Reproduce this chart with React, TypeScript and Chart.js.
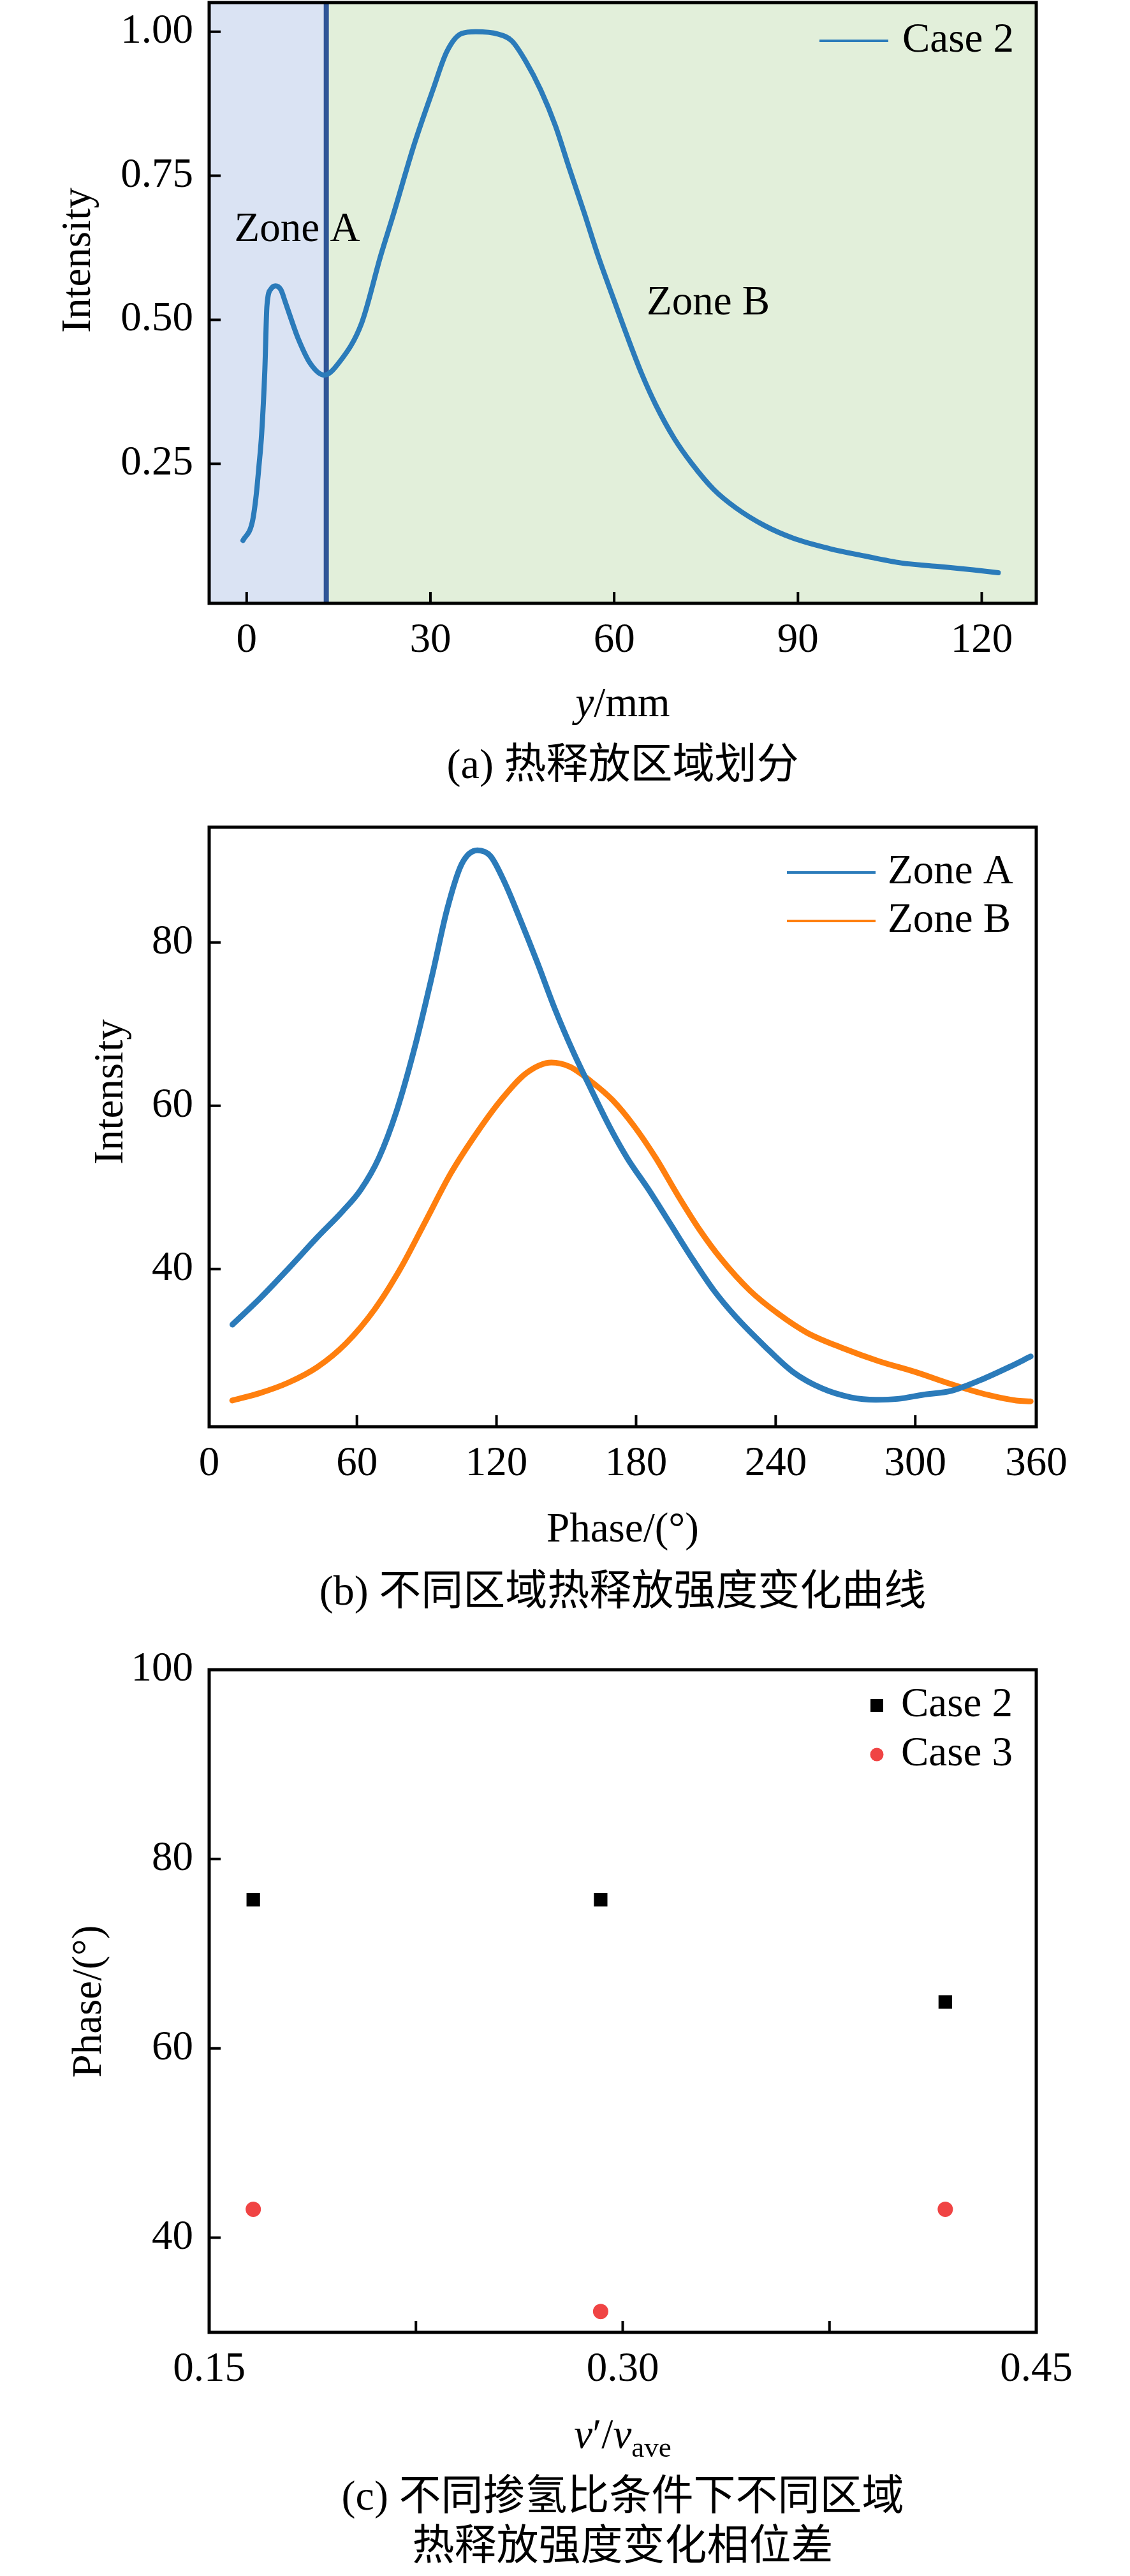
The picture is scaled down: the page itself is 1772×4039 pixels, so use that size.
import { useEffect, useRef } from "react";
import { Chart, registerables } from "chart.js";

Chart.register(...registerables);

// (a) 热释放区域划分: intensity profile along y
const profilePos = [
  -0.6, 0.9, 1.5, 2.0, 2.45, 2.97, 3.31, 4.0, 4.7, 5.6, 6.27, 7.3, 8.35, 10.4, 12.65, 15.25,
  18.76, 21.9, 23.9, 27.4, 30.4, 32.7, 35.1, 37.4, 41.0, 43.3, 45.6, 48.0, 50.4, 52.7, 55.1,
  57.4, 59.8, 62.1, 64.5, 66.8, 69.8, 72.7, 76.2, 79.8, 84.5, 89.2, 95.1, 100.9, 106.8, 112.7,
  118.6, 122.7,
];
const profileIntensity = [
  0.117, 0.148, 0.19, 0.245, 0.302, 0.413, 0.524, 0.554, 0.559, 0.552, 0.532, 0.5, 0.469, 0.424,
  0.404, 0.428, 0.494, 0.612, 0.681, 0.806, 0.899, 0.966, 0.997, 1.0, 0.996, 0.984, 0.948, 0.899,
  0.837, 0.762, 0.686, 0.61, 0.539, 0.472, 0.406, 0.352, 0.294, 0.25, 0.206, 0.174, 0.143, 0.121,
  0.103, 0.09, 0.078, 0.072, 0.066, 0.061,
];
const zoneBoundary = 13;
const profileXTicks = [0, 30, 60, 90, 120];
const profileYTicks = [0.25, 0.5, 0.75, 1.0];

// (b) 不同区域热释放强度变化曲线
const zoneAPhase = [
  6.5, 18.3, 30.7, 43.0, 53.9, 61.6, 69.4, 77.1, 84.9, 92.6, 98.8, 105.0, 111.8, 117.4, 123.6,
  129.8, 137.5, 145.2, 153.0, 160.7, 168.5, 176.2, 185.5, 194.8, 204.1, 213.4, 222.7, 235.1,
  247.4, 259.8, 272.2, 283.1, 292.4, 303.2, 315.6, 328.0, 340.4, 349.6,
];
const zoneAIntensity = [
  33.2, 36.4, 40.1, 43.9, 47.1, 49.7, 53.6, 59.4, 67.2, 76.3, 84.1, 89.6, 91.3, 90.6, 87.3, 83.1,
  77.6, 71.8, 66.6, 62.0, 57.5, 53.6, 49.7, 45.5, 41.3, 37.4, 34.2, 30.6, 27.4, 25.4, 24.3, 24.0,
  24.1, 24.6, 25.1, 26.4, 28.0, 29.3,
];
const zoneBPhase = [
  6.4, 18.2, 30.6, 43.0, 55.3, 67.7, 78.6, 89.4, 100.3, 111.1, 121.9, 132.8, 143.6, 151.4, 160.6,
  169.9, 179.2, 188.5, 197.8, 207.1, 216.4, 228.8, 241.2, 253.5, 269.0, 284.5, 300.0, 315.5,
  331.0, 343.4, 349.6,
];
const zoneBIntensity = [
  23.9, 24.8, 26.1, 28.0, 30.9, 35.1, 40.0, 45.8, 51.7, 56.5, 60.7, 64.0, 65.3, 64.8, 63.0, 60.7,
  57.5, 53.6, 49.1, 44.9, 41.3, 37.4, 34.5, 32.2, 30.3, 28.7, 27.4, 25.9, 24.6, 23.9, 23.8,
];
// the end labels sit on the frame edges in the source figure
const phaseXTicks = [-3.5, 60, 120, 180, 240, 300, 352];
const phaseXLabels = ["0", "60", "120", "180", "240", "300", "360"];
const phaseYTicks = [40, 60, 80];

// (c) 相位差
const ratio = [0.166, 0.292, 0.417];
const case2Lag = [75.7, 75.7, 64.9];
const case3Lag = [43.0, 32.2, 43.0];
const ratioTicks = [0.15, 0.225, 0.3, 0.375, 0.45];
const ratioLabels = ["0.15", "", "0.30", "", "0.45"];
const lagYTicks = [40, 60, 80, 100];

const BLUE = "#2b7bba";
const ORANGE = "#ff7f0e";
const RED = "#f04444";
const SERIF = "'Liberation Serif', 'Times New Roman', serif";
const CJK = "'Liberation Serif', 'Noto Sans CJK SC', sans-serif";
const FONT = `65px ${SERIF}`;
const TICK_LEN = 18;
const tickFont = { family: SERIF, size: 65 };

type Run = { text: string; italic?: boolean; size?: number; dy?: number };

const xScale = (min: number, max: number, values: number[], labels: string[]) => ({
  type: "linear",
  position: "bottom",
  min,
  max,
  grid: { display: false, drawTicks: false, tickLength: 0 },
  border: { display: false },
  ticks: {
    font: tickFont,
    color: "#000",
    padding: 20,
    autoSkip: false,
    maxRotation: 0,
    minRotation: 0,
    callback: (_v: any, i: number) => labels[i] ?? "",
  },
  afterBuildTicks: (s: any) => {
    s.ticks = values.map((value) => ({ value }));
  },
  afterFit: (s: any) => {
    s.height = 100;
    s.paddingLeft = 0;
    s.paddingRight = 0;
  },
});

const yScale = (min: number, max: number, values: number[], fmt: (v: number) => string) => ({
  type: "linear",
  position: "left",
  min,
  max,
  grid: { display: false, drawTicks: false, tickLength: 0 },
  border: { display: false },
  ticks: { font: tickFont, color: "#000", padding: 25, callback: (v: any) => fmt(Number(v)) },
  afterBuildTicks: (s: any) => {
    s.ticks = values.map((value) => ({ value }));
  },
  // wide box so the labels are not clipped
  afterFit: (s: any) => {
    s.width = 300;
    s.paddingTop = 0;
    s.paddingBottom = 0;
  },
});

const baseOptions = (padding: any) => ({
  responsive: false,
  animation: false,
  events: [],
  layout: { padding },
  plugins: { legend: { display: false }, title: { display: false }, tooltip: { enabled: false } },
});

function drawFrame(chart: any) {
  const { ctx, chartArea: a, scales } = chart;
  ctx.save();
  ctx.strokeStyle = "#000";
  ctx.lineWidth = 4;
  ctx.beginPath();
  scales.x.ticks.forEach((t: any) => {
    const p = scales.x.getPixelForValue(t.value);
    ctx.moveTo(p, a.bottom);
    ctx.lineTo(p, a.bottom - TICK_LEN);
  });
  scales.y.ticks.forEach((t: any) => {
    const p = scales.y.getPixelForValue(t.value);
    ctx.moveTo(a.left, p);
    ctx.lineTo(a.left + TICK_LEN, p);
  });
  ctx.stroke();
  ctx.lineWidth = 5;
  ctx.strokeRect(a.left, a.top, a.right - a.left, a.bottom - a.top);
  ctx.restore();
}

function drawRuns(ctx: CanvasRenderingContext2D, runs: Run[], cx: number, y: number) {
  const fontOf = (r: Run) => `${r.italic ? "italic " : ""}${r.size ?? 65}px ${SERIF}`;
  const widths = runs.map((r) => {
    ctx.font = fontOf(r);
    return ctx.measureText(r.text).width;
  });
  let x = cx - widths.reduce((s, w) => s + w, 0) / 2;
  ctx.textAlign = "left";
  ctx.textBaseline = "alphabetic";
  runs.forEach((r, i) => {
    ctx.font = fontOf(r);
    ctx.fillText(r.text, x, y + (r.dy ?? 0));
    x += widths[i];
  });
}

type Deco = {
  yTitle: { text: string; x: number; y: number };
  xTitle: { runs: Run[]; y: number };
  caption: { lines: string[]; y: number[] };
  legend: (chart: any) => void;
  underlay?: (chart: any) => void;
  overlay?: (chart: any) => void;
};

const panelPlugin = (id: string, deco: Deco) => ({
  id,
  beforeDatasetsDraw(chart: any) {
    deco.underlay?.(chart);
  },
  afterDraw(chart: any) {
    const { ctx, chartArea: a } = chart;
    const cx = (a.left + a.right) / 2;
    drawFrame(chart);
    ctx.save();
    ctx.fillStyle = "#000";
    deco.overlay?.(chart);
    deco.legend(chart);

    ctx.save();
    ctx.translate(deco.yTitle.x, deco.yTitle.y);
    ctx.rotate(-Math.PI / 2);
    ctx.font = FONT;
    ctx.textAlign = "center";
    ctx.textBaseline = "middle";
    ctx.fillText(deco.yTitle.text, 0, 0);
    ctx.restore();

    drawRuns(ctx, deco.xTitle.runs, cx, deco.xTitle.y);

    ctx.font = `66px ${CJK}`;
    ctx.textAlign = "center";
    ctx.textBaseline = "middle";
    deco.caption.lines.forEach((line, i) => ctx.fillText(line, cx, deco.caption.y[i]));
    ctx.restore();
  },
});

const lineLegend = (x0: number, x1: number, textX: number, rows: number[]) => (chart: any) => {
  const { ctx } = chart;
  chart.data.datasets.forEach((ds: any, i: number) => {
    ctx.strokeStyle = ds.borderColor;
    ctx.lineWidth = 4;
    ctx.beginPath();
    ctx.moveTo(x0, rows[i]);
    ctx.lineTo(x1, rows[i]);
    ctx.stroke();
    ctx.fillStyle = "#000";
    ctx.font = FONT;
    ctx.textAlign = "left";
    ctx.textBaseline = "middle";
    ctx.fillText(ds.label, textX, rows[i]);
  });
};

const markerLegend = (mx: number, textX: number, rows: number[]) => (chart: any) => {
  const { ctx } = chart;
  chart.data.datasets.forEach((ds: any, i: number) => {
    ctx.fillStyle = ds.pointBackgroundColor;
    if (ds.pointStyle === "rect") {
      ctx.fillRect(mx - 10, rows[i] - 10, 20, 20);
    } else {
      ctx.beginPath();
      ctx.arc(mx, rows[i], 10.5, 0, Math.PI * 2);
      ctx.fill();
    }
    ctx.fillStyle = "#000";
    ctx.font = FONT;
    ctx.textAlign = "left";
    ctx.textBaseline = "middle";
    ctx.fillText(ds.label, textX, rows[i]);
  });
};

const toPoints = (xs: number[], ys: number[]) => xs.map((x, i) => ({ x, y: ys[i] }));

const curveStyle = (color: string, width: number) => ({
  showLine: true,
  borderColor: color,
  backgroundColor: color,
  borderWidth: width,
  borderJoinStyle: "round",
  borderCapStyle: "round",
  pointRadius: 0,
  cubicInterpolationMode: "monotone",
  fill: false,
});

const profileConfig = () => ({
  type: "scatter",
  data: {
    datasets: [
      { label: "Case 2", data: toPoints(profilePos, profileIntensity), ...curveStyle(BLUE, 8) },
    ],
  },
  options: {
    ...baseOptions({ left: 28, right: 147, top: 4, bottom: 214 }),
    scales: {
      x: xScale(-6.12, 128.9, profileXTicks, profileXTicks.map(String)),
      y: yScale(0.0078, 1.0507, profileYTicks, (v) => v.toFixed(2)),
    },
  },
  plugins: [
    panelPlugin("panelA", {
      underlay: (chart) => {
        const { ctx, chartArea: a, scales } = chart;
        const bx = scales.x.getPixelForValue(zoneBoundary);
        ctx.save();
        ctx.fillStyle = "#dae3f3";
        ctx.fillRect(a.left, a.top, bx - a.left, a.bottom - a.top);
        ctx.fillStyle = "#e2efda";
        ctx.fillRect(bx, a.top, a.right - bx, a.bottom - a.top);
        ctx.strokeStyle = "#2f5597";
        ctx.lineWidth = 8;
        ctx.beginPath();
        ctx.moveTo(bx, a.top);
        ctx.lineTo(bx, a.bottom);
        ctx.stroke();
        ctx.restore();
      },
      overlay: (chart) => {
        const { ctx, scales } = chart;
        ctx.font = FONT;
        ctx.textAlign = "left";
        ctx.textBaseline = "middle";
        ctx.fillText("Zone A", scales.x.getPixelForValue(-2.0), scales.y.getPixelForValue(0.655));
        ctx.fillText("Zone B", scales.x.getPixelForValue(65.3), scales.y.getPixelForValue(0.528));
      },
      legend: lineLegend(1285, 1393, 1415, [64]),
      yTitle: { text: "Intensity", x: 124, y: 408 },
      xTitle: { runs: [{ text: "y", italic: true }, { text: "/mm" }], y: 1123 },
      caption: { lines: ["(a) 热释放区域划分"], y: [1203] },
    }),
  ],
});

const phaseConfig = () => ({
  type: "scatter",
  data: {
    datasets: [
      { label: "Zone A", data: toPoints(zoneAPhase, zoneAIntensity), ...curveStyle(BLUE, 9) },
      { label: "Zone B", data: toPoints(zoneBPhase, zoneBIntensity), ...curveStyle(ORANGE, 9) },
    ],
  },
  options: {
    ...baseOptions({ left: 28, right: 147, top: 37, bottom: 223 }),
    scales: {
      x: xScale(-3.5, 352, phaseXTicks, phaseXLabels),
      y: yScale(20.69, 94.13, phaseYTicks, (v) => String(v)),
    },
  },
  plugins: [
    panelPlugin("panelB", {
      legend: lineLegend(1234, 1373, 1392, [108, 184]),
      yTitle: { text: "Intensity", x: 175, y: 452 },
      xTitle: { runs: [{ text: "Phase/(°)" }], y: 1157 },
      caption: { lines: ["(b) 不同区域热释放强度变化曲线"], y: [1239] },
    }),
  ],
});

const lagConfig = () => ({
  type: "scatter",
  data: {
    datasets: [
      {
        label: "Case 2",
        data: toPoints(ratio, case2Lag),
        pointStyle: "rect",
        pointRadius: 15,
        pointBackgroundColor: "#000",
        pointBorderColor: "#000",
        pointBorderWidth: 0,
      },
      {
        label: "Case 3",
        data: toPoints(ratio, case3Lag),
        pointStyle: "circle",
        pointRadius: 12,
        pointBackgroundColor: RED,
        pointBorderColor: RED,
        pointBorderWidth: 0,
      },
    ],
  },
  options: {
    ...baseOptions({ left: 28, right: 147, top: 58, bottom: 282 }),
    scales: {
      x: xScale(0.15, 0.45, ratioTicks, ratioLabels),
      y: yScale(30, 100, lagYTicks, (v) => String(v)),
    },
  },
  plugins: [
    panelPlugin("panelC", {
      legend: markerLegend(1375, 1413, [114, 191]),
      yTitle: { text: "Phase/(°)", x: 141, y: 578 },
      xTitle: {
        runs: [
          { text: "v", italic: true },
          { text: "′/" },
          { text: "v", italic: true },
          { text: "ave", size: 45, dy: 14 },
        ],
        y: 1278,
      },
      caption: { lines: ["(c) 不同掺氢比条件下不同区域", "热释放强度变化相位差"], y: [1358, 1436] },
    }),
  ],
});

const Panel = ({ height, build }: { height: number; build: () => any }) => {
  const canvasRef = useRef<HTMLCanvasElement | null>(null);
  const chartRef = useRef<Chart | null>(null);

  useEffect(() => {
    if (!canvasRef.current) return;
    if (chartRef.current) chartRef.current.destroy();
    chartRef.current = new Chart(canvasRef.current, build());
    return () => {
      if (chartRef.current) {
        chartRef.current.destroy();
        chartRef.current = null;
      }
    };
  }, []);

  return (
    <canvas
      ref={canvasRef}
      width={1772}
      height={height}
      style={{ display: "block", width: 1772, height }}
    />
  );
};

export default function App() {
  return (
    <div style={{ position: "absolute", left: 0, top: 0, width: 1772, background: "#fff" }}>
      <Panel height={1260} build={profileConfig} />
      <Panel height={1300} build={phaseConfig} />
      <Panel height={1479} build={lagConfig} />
    </div>
  );
}
